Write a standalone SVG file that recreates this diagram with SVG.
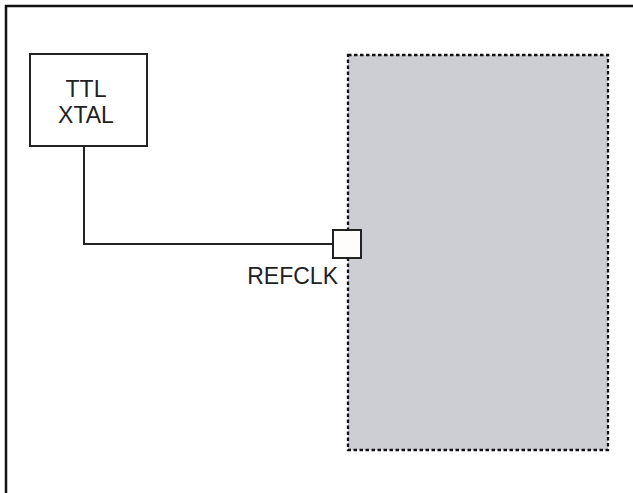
<svg xmlns="http://www.w3.org/2000/svg" width="633" height="493" viewBox="0 0 633 493">
<style>
.lbl{font-family:"Liberation Sans",Arial,sans-serif;font-size:23px;fill:#222}
.box{fill:#fff;stroke:#222;stroke-width:2}
.wire{fill:none;stroke:#222;stroke-width:2}
</style>
<rect width="633" height="493" fill="#fff"/>
<path d="M6,700 V6 H700" fill="none" stroke="#111" stroke-width="2.5"/>
<g id="chip">
<rect x="348" y="55" width="260" height="395" fill="#cdced3" stroke="#111" stroke-width="2.3" stroke-dasharray="3.5,2.5"/>
</g>
<g id="xtal">
<rect class="box" x="30" y="54" width="117" height="92"/>
<text class="lbl" x="86" y="97" text-anchor="middle">TTL</text>
<text class="lbl" x="86" y="123" text-anchor="middle">XTAL</text>
</g>
<g id="connectors">
<path class="wire" d="M84,146 V244 H334"/>
</g>
<g id="refclk">
<rect x="333" y="230" width="28" height="28" fill="#fffdfc" stroke="#222" stroke-width="2"/>
<text class="lbl" x="338" y="284" text-anchor="end">REFCLK</text>
</g>
</svg>
